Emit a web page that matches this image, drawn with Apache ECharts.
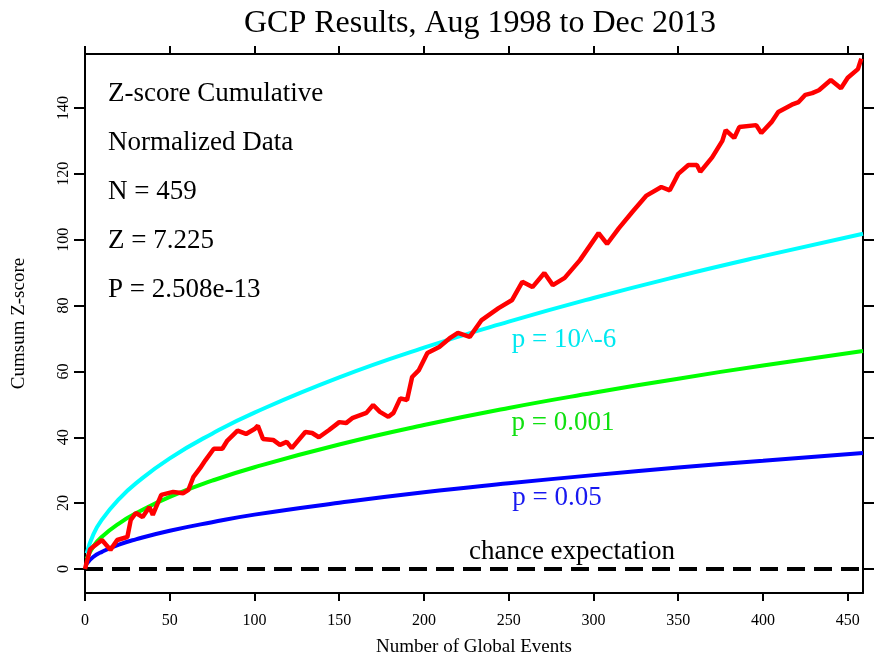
<!DOCTYPE html>
<html>
<head>
<meta charset="utf-8">
<title>GCP Results</title>
<script src="https://cdn.jsdelivr.net/npm/echarts@6/dist/echarts.min.js"></script>
<style>
  html, body { margin: 0; padding: 0; background: #fff; }
  #chart { width: 880px; height: 659px; }
</style>
</head>
<body>
<div id="chart"></div>
<script>
// tick labels
const xTicks = [0, 50, 100, 150, 200, 250, 300, 350, 400, 450];
const yTicks = [0, 20, 40, 60, 80, 100, 120, 140];

// cumulative z-score
const redN = [0, 3, 10, 15, 19, 25, 27, 30, 34, 38, 40, 45, 52, 58, 61, 64, 68, 71, 76, 81,
  84, 90, 95, 100, 102, 105, 111, 115, 119, 122, 130, 134, 138, 144, 150, 154, 158, 166, 170, 174,
  179, 182, 186, 190, 193, 197, 202, 209, 215, 220, 227, 234, 244, 252, 258, 264, 271, 276, 283, 292,
  303, 308, 315, 323, 331, 340, 345, 350, 356, 361, 363, 370, 376, 378, 383, 386, 396, 399, 405, 409,
  417, 421, 425, 429, 433, 440, 446, 450, 456, 458];
const redZ = [0, 6, 8.8, 5.8, 8.8, 9.7, 14.9, 17, 15.8, 18.8, 16.4, 22.5, 23.4, 23, 24, 28, 30.7, 33, 36.5, 36.5,
  39, 42, 41, 42.5, 43.5, 39.5, 39.2, 37.7, 38.6, 36.7, 41.6, 41.3, 40, 42.2, 44.6, 44.3, 45.9, 47.4, 49.8, 47.7,
  46.2, 47.4, 51.8, 51.3, 58.3, 60.4, 65.6, 67.4, 70, 71.7, 70.5, 75.6, 79.2, 81.7, 87.2, 85.6, 89.9, 86.2, 88.4, 93.8,
  102, 98.7, 103.5, 108.5, 113.3, 116, 115, 120, 122.7, 122.7, 120.6, 125, 130, 133.3, 130.9, 134.2, 134.8, 132.4, 135.7, 138.8,
  141, 141.8, 144, 144.5, 145.4, 148.5, 146, 149.2, 151.8, 155];

// significance envelopes
const envN = [1, 5, 10, 20, 30, 50, 75, 100, 150, 200, 250, 300, 350, 400, 459];
const p05 = [1.6, 3.7, 5.2, 7.4, 9.0, 11.6, 14.2, 16.5, 20.1, 23.3, 26.0, 28.5, 30.8, 32.9, 35.2];
const p001 = [3.1, 6.9, 9.8, 13.8, 16.9, 21.9, 26.8, 30.9, 37.8, 43.7, 48.9, 53.5, 57.8, 61.8, 66.2];
const p1e6 = [4.8, 10.6, 15.0, 21.2, 26.0, 33.6, 41.1, 47.5, 58.2, 67.2, 75.1, 82.3, 88.9, 95.0, 101.8];

const chanceN = [0, 459];
const chanceZ = [0, 0];

const statLines = ["Z-score Cumulative", "Normalized Data", "N = 459", "Z = 7.225", "P = 2.508e-13"];

const pairs = (xs, ys) => xs.map((x, i) => [x, ys[i]]);

const serif = "Liberation Serif";
const myChart = echarts.init(document.getElementById("chart"));

const axisLine = { show: true, onZero: false, lineStyle: { color: "#000", width: 2 } };

const option = {
  animation: false,
  backgroundColor: "#fff",
  title: {
    text: "GCP Results, Aug 1998 to Dec 2013",
    left: 475,
    top: 3,
    textAlign: "center",
    textStyle: { fontFamily: serif, fontSize: 32, fontWeight: "normal", color: "#000" },
  },
  grid: { left: 85, right: 17, top: 54, bottom: 66, containLabel: false, outerBoundsMode: "none" },
  xAxis: [
    {
      type: "value",
      min: 0,
      max: 459,
      position: "bottom",
      name: "Number of Global Events",
      nameLocation: "middle",
      nameGap: 45,
      nameTextStyle: { fontFamily: serif, fontSize: 19, color: "#000" },
      axisLine: axisLine,
      axisTick: { show: true, customValues: xTicks, length: 8, lineStyle: { color: "#000", width: 2 } },
      axisLabel: { customValues: xTicks, margin: 20, fontFamily: serif, fontSize: 16, color: "#000" },
      splitLine: { show: false },
    },
    {
      type: "value",
      min: 0,
      max: 459,
      position: "top",
      axisLine: axisLine,
      axisTick: { show: true, customValues: xTicks, length: 8, lineStyle: { color: "#000", width: 2 } },
      axisLabel: { show: false },
      splitLine: { show: false },
    },
  ],
  yAxis: [
    {
      type: "value",
      min: -7.3,
      max: 156.4,
      position: "left",
      name: "Cumsum Z-score",
      nameLocation: "middle",
      nameGap: 56,
      nameTextStyle: { fontFamily: serif, fontSize: 19, color: "#000" },
      axisLine: axisLine,
      axisTick: { show: true, customValues: yTicks, length: 11, lineStyle: { color: "#000", width: 2 } },
      axisLabel: { customValues: yTicks, rotate: 90, margin: 13, fontFamily: serif, fontSize: 16, color: "#000" },
      splitLine: { show: false },
    },
    {
      type: "value",
      min: -7.3,
      max: 156.4,
      position: "right",
      axisLine: axisLine,
      axisTick: { show: true, customValues: yTicks, length: 11, lineStyle: { color: "#000", width: 2 } },
      axisLabel: { show: false },
      splitLine: { show: false },
    },
  ],
  series: [
    {
      name: "chance expectation",
      type: "line",
      symbol: "none",
      data: pairs(chanceN, chanceZ),
      lineStyle: { color: "#000", width: 4, type: [18, 9] },
      z: 1,
    },
    {
      name: "p = 0.05",
      type: "line",
      symbol: "none",
      smooth: true,
      data: pairs(envN, p05),
      lineStyle: { color: "#0000ff", width: 4 },
      z: 2,
    },
    {
      name: "p = 0.001",
      type: "line",
      symbol: "none",
      smooth: true,
      data: pairs(envN, p001),
      lineStyle: { color: "#00ff00", width: 4 },
      z: 2,
    },
    {
      name: "p = 10^-6",
      type: "line",
      symbol: "none",
      smooth: true,
      data: pairs(envN, p1e6),
      lineStyle: { color: "#00ffff", width: 4 },
      z: 2,
    },
    {
      name: "Cumsum",
      type: "line",
      symbol: "none",
      data: pairs(redN, redZ),
      lineStyle: { color: "#ff0000", width: 4.5 },
      z: 3,
    },
  ],
  graphic: [
    ...statLines.map((t, i) => ({
      type: "text",
      left: 108,
      top: 80 + i * 49,
      style: { text: t, fontFamily: serif, fontSize: 27, fill: "#000" },
    })),
    {
      type: "text",
      x: 564,
      y: 340,
      style: { text: "p = 10^-6", fontFamily: serif, fontSize: 27, fill: "#00e8f0", textAlign: "center", textVerticalAlign: "middle" },
    },
    {
      type: "text",
      x: 563,
      y: 423,
      style: { text: "p = 0.001", fontFamily: serif, fontSize: 27, fill: "#10e010", textAlign: "center", textVerticalAlign: "middle" },
    },
    {
      type: "text",
      x: 557,
      y: 498,
      style: { text: "p = 0.05", fontFamily: serif, fontSize: 27, fill: "#1818f0", textAlign: "center", textVerticalAlign: "middle" },
    },
    {
      type: "text",
      x: 572,
      y: 552,
      style: { text: "chance expectation", fontFamily: serif, fontSize: 27, fill: "#000", textAlign: "center", textVerticalAlign: "middle" },
    },
  ],
};

myChart.setOption(option);
</script>
</body>
</html>
